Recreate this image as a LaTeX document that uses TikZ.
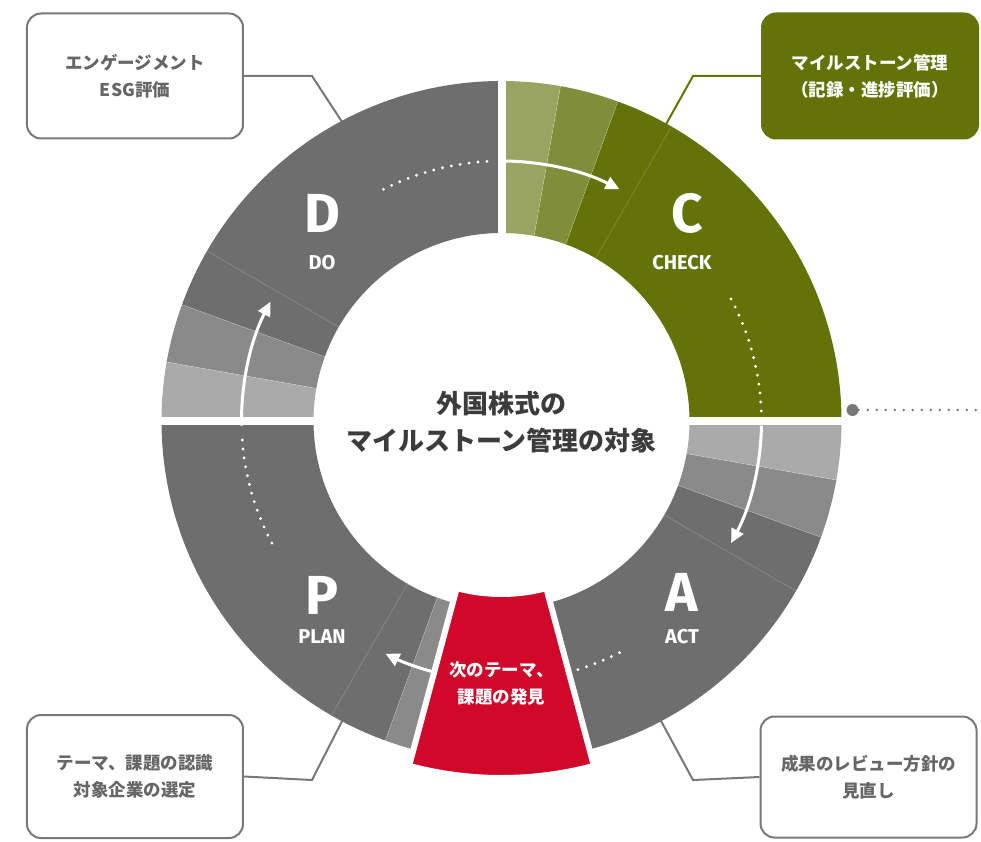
\documentclass[tikz,border=0pt]{standalone}
\usepackage{fontspec}
\setmainfont{Noto Sans CJK JP}
\newfontfamily\latinfont{Fira Sans}
\usepackage{xcolor}
\usepackage{tikz}
\usetikzlibrary{arrows.meta,positioning,calc}

\definecolor{ringdark}{RGB}{110,110,110}
\definecolor{ringmid}{RGB}{138,138,138}
\definecolor{ringlight}{RGB}{170,170,170}
\definecolor{checkdark}{RGB}{99,115,8}
\definecolor{checkmid}{RGB}{128,141,58}
\definecolor{checklight}{RGB}{153,164,98}
\definecolor{nextred}{RGB}{208,8,42}
\definecolor{boxline}{RGB}{120,120,120}
\definecolor{boxtext}{RGB}{102,102,102}
\definecolor{titletext}{RGB}{60,60,60}

\begin{document}
\begin{tikzpicture}[
  x=1pt, y=1pt,
  note/.style={rectangle, rounded corners=14pt, draw=boxline, line width=2pt, fill=white, minimum width=216pt, minimum height=125pt, align=center, text=boxtext, font=\bfseries\fontsize{17.5}{27}\selectfont},
  link/.style={draw=boxline, line width=2pt},
  bigletter/.style={text=white, inner sep=0pt, font=\latinfont\bfseries\fontsize{55}{55}\selectfont},
  phase/.style={text=white, inner sep=0pt, font=\latinfont\bfseries\fontsize{20}{20}\selectfont},
  flow/.style={white, line width=3pt, -{Triangle[length=14pt,width=13pt]}},
  trail/.style={white, line width=3.2pt, line cap=round, dash pattern=on 0pt off 9pt},
  ringline/.style={draw=ringmid, line width=.7pt}
]
\useasboundingbox (-501.5,-420) rectangle (479.5,421);

\node[note] (dobox) at (-366.5,345) {エンゲージメント\\ESG評価};
\node[note, fill=checkdark, draw=checkdark, text=white] (checkbox) at (368.5,345) {マイルストーン管理\\（記録・進捗評価）};
\node[note, minimum height=123pt] (planbox) at (-366.5,-355.5) {テーマ、課題の認識\\対象企業の選定};
\node[note, minimum height=121pt] (actbox) at (367,-356) {成果のレビュー方針の\\見直し};

\coordinate (dobend) at (-189.5,345);
\coordinate (dotouch) at (118:335pt);
\coordinate (checkbend) at (191.5,345);
\coordinate (checktouch) at (61:335pt);
\coordinate (planbend) at (-189.5,-359);
\coordinate (plantouch) at (242:335pt);
\coordinate (actbend) at (191.5,-359);
\coordinate (acttouch) at (298:335pt);
\draw[link] (dobox.east) -- (dobend) -- (dotouch);
\draw[link, draw=checkdark] (checkbox.west) -- (checkbend) -- (checktouch);
\draw[link] (planbox.east) -- (planbend) -- (plantouch);
\draw[link] (actbox.west) -- (actbend) -- (acttouch);

% ring
\foreach \from/\to/\col in {90/160/ringdark, 160/170/ringmid, 170/180/ringlight,
  0/70/checkdark, 70/80/checkmid, 80/90/checklight,
  -90/-20/ringdark, -20/-10/ringmid, -10/0/ringlight,
  180/250/ringdark, 250/260/ringmid, 260/270/ringlight}
  \fill[\col] (\from:188pt) arc[start angle=\from, end angle=\to, radius=188pt]
    -- (\to:340pt) arc[start angle=\to, end angle=\from, radius=340pt] -- cycle;
\foreach \a in {150,240,-30}
  \draw[ringline] (\a:188pt) -- (\a:340pt);
\draw[ringline, draw=checkmid] (60:188pt) -- (60:340pt);
\foreach \a in {160,170,70,80,-10,-20,250,260}
  \draw[white, opacity=.3, line width=.5pt] (\a:188pt) -- (\a:340pt);
\fill[white] (-350,-4) rectangle (350,4);
\fill[white] (-4,-350) rectangle (4,350);

\filldraw[fill=nextred, draw=white, line width=6pt] (255:173pt) arc[start angle=255, end angle=285, radius=173pt]
  -- (285:357pt) arc[start angle=285, end angle=255, radius=357pt] -- cycle;

\draw[trail] (117:260pt) arc[start angle=117, end angle=92, radius=260pt];
\draw[flow] (89:260pt) arc[start angle=89, end angle=63, radius=260pt];
\draw[trail] (28:260pt) arc[start angle=28, end angle=2, radius=260pt];
\draw[flow] (-1:260pt) arc[start angle=-1, end angle=-28, radius=260pt];
\draw[trail] (297:260pt) arc[start angle=297, end angle=287, radius=260pt];
\draw[flow] (255:260pt) arc[start angle=255, end angle=243.5, radius=260pt];
\draw[trail] (208:260pt) arc[start angle=208, end angle=183, radius=260pt];
\draw[flow] (181:260pt) arc[start angle=181, end angle=152.7, radius=260pt];

\node[bigletter] (dletter) at (-179.5,208) {D};
\node[phase] (dword) at (-179.5,158) {DO};
\node[bigletter] (cletter) at (185.5,208) {C};
\node[phase] (cword) at (180.5,158) {CHECK};
\node[bigletter] (aletter) at (180.5,-171) {A};
\node[phase] (aword) at (180.5,-216) {ACT};
\node[bigletter] (pletter) at (-179.5,-174) {P};
\node[phase] (pword) at (-179.5,-216) {PLAN};

\node[align=center, text=titletext, font=\bfseries\fontsize{26}{37}\selectfont] (title) at (0,-1.5) {外国株式の\\マイルストーン管理の対象};
\node[align=center, text=white, font=\bfseries\fontsize{17.5}{27}\selectfont] (nexttheme) at (0,-262.5) {次のテーマ、\\課題の発見};

\node[circle, fill=boxline, inner sep=0pt, minimum size=12pt] (pin) at (351,11) {};
\coordinate (pinend) at (479.5,11);
\draw[boxline, line width=2.6pt, line cap=round, dash pattern=on 0pt off 9pt] (pin) -- (pinend);

\end{tikzpicture}
\end{document}
